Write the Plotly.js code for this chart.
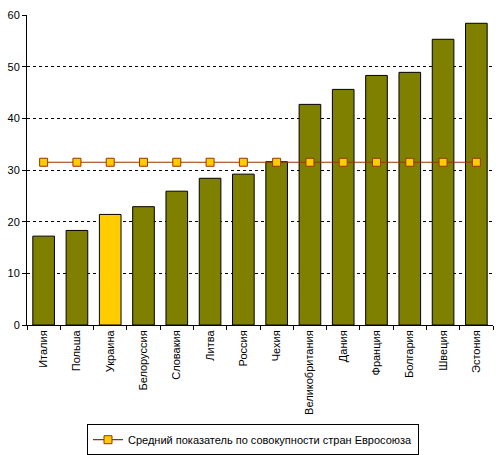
<!DOCTYPE html>
<html><head><meta charset="utf-8">
<script src="https://cdn.plot.ly/plotly-3.0.1.min.js"></script>
<style>html,body{margin:0;padding:0;background:#fff}#c{width:501px;height:455px}</style>
</head><body><div id="c"></div>
<script>
const categories = ["Италия","Польша","Украина","Белоруссия","Словакия","Литва","Россия","Чехия","Великобритания","Дания","Франция","Болгария","Швеция","Эстония"];
const values = [17.2, 18.3, 21.4, 22.9, 25.9, 28.4, 29.2, 31.6, 42.7, 45.6, 48.3, 48.9, 55.3, 58.4];
const euAverage = [31.5, 31.5, 31.5, 31.5, 31.5, 31.5, 31.5, 31.5, 31.5, 31.5, 31.5, 31.5, 31.5, 31.5];
const highlight = "Украина";
const lineName = "Средний показатель по совокупности стран Евросоюза";

const barColors = categories.map(c => c === highlight ? "#FFCC00" : "#808000");

const traces = [
  {type:"bar", x:categories, y:values, marker:{color:barColors, line:{color:"#000", width:1}}, showlegend:false, hoverinfo:"skip"},
  {type:"scatter", mode:"lines+markers", x:categories, y:euAverage, name:lineName,
   line:{color:"#993300", width:1.2},
   marker:{symbol:"square", size:8, color:"#FFCC00", line:{color:"#993300", width:1}}}
];
const layout = {
  width:501, height:455,
  margin:{l:27, r:8, t:15, b:130, autoexpand:false},
  paper_bgcolor:"#fff", plot_bgcolor:"#fff",
  font:{family:"Liberation Sans, Arial, sans-serif", size:11, color:"#000"},
  bargap:0.35,
  xaxis:{type:"category", range:[-0.5, categories.length - 0.5], tickangle:-90, showline:true, linecolor:"#000", linewidth:1,
         ticks:"outside", tickson:"boundaries", ticklen:4, tickcolor:"#000",
         showgrid:false, tickfont:{size:11}, automargin:false},
  yaxis:{range:[0,60], dtick:10, showline:true, linecolor:"#000", linewidth:1,
         ticks:"outside", ticklen:4, tickcolor:"#000",
         showgrid:true, gridcolor:"#000", gridwidth:1, griddash:"3px,3px", zeroline:false,
         tickfont:{size:11}, automargin:false},
  showlegend:true,
  legend:{orientation:"h", x:0.485, xanchor:"center", y:-0.32, yanchor:"top",
          bordercolor:"#000", borderwidth:1, font:{size:11}, itemwidth:30}
};
Plotly.newPlot("c", traces, layout, {displayModeBar:false, staticPlot:true});
</script></body></html>
